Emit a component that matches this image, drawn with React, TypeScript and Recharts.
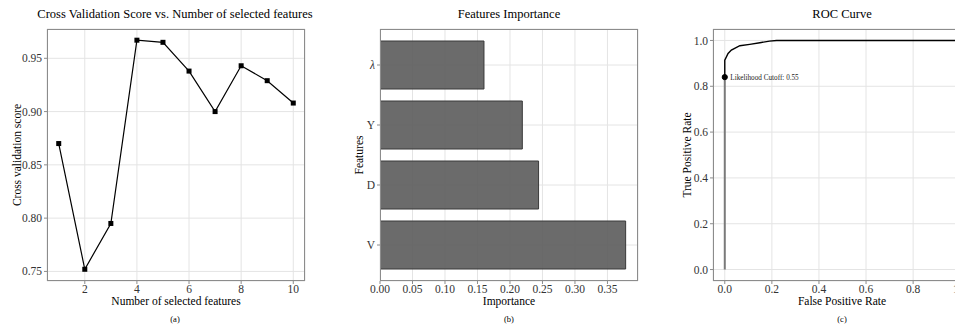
import React from 'react';
import {
  LineChart, Line, XAxis, YAxis, CartesianGrid, BarChart, Bar, ReferenceDot, Label,
} from 'recharts';

const featureCounts = [1, 2, 3, 4, 5, 6, 7, 8, 9, 10];
const cvScores = [0.870, 0.752, 0.795, 0.967, 0.965, 0.938, 0.900, 0.943, 0.929, 0.908];
const cvXTicks = [2, 4, 6, 8, 10];
const cvYTicks = [0.75, 0.80, 0.85, 0.90, 0.95];

const featureNames = ['λ', 'Y', 'D', 'V'];
const importances = [0.160, 0.219, 0.244, 0.378];
const impTicks = [0, 0.05, 0.10, 0.15, 0.20, 0.25, 0.30, 0.35];

const rocFpr = [0, 0, 0.014, 0.028, 0.064, 0.106, 0.149, 0.19, 0.22, 1.0];
const rocTpr = [0.84, 0.914, 0.943, 0.958, 0.977, 0.983, 0.99, 0.997, 1.0, 1.0];
const rocLowFpr = [0, 0];
const rocLowTpr = [0, 0.84];
const rocTicks = [0, 0.2, 0.4, 0.6, 0.8, 1.0];
const cutoffFpr = 0;
const cutoffTpr = 0.84;
const cutoffLabel = 'Likelihood Cutoff:  0.55';

const cvData = featureCounts.map((n, i) => ({ n, score: cvScores[i] }));
const impData = featureNames.map((name, i) => ({ name, value: importances[i] }));
const rocData = rocFpr.map((f, i) => ({ fpr: f, tpr: rocTpr[i] }));
const rocLowData = rocLowFpr.map((f, i) => ({ fpr: f, tpr: rocLowTpr[i] }));

const FONT = '"Liberation Serif", "Times New Roman", serif';
const GRID = '#e4e4e4';
const BORDER = '#8c8c8c';
const tickStyle = { fontSize: 11.5, fill: '#333', fontFamily: FONT };

const SquareDot = (props: any) => {
  const { cx, cy } = props;
  if (cx == null || cy == null) return null;
  return <rect x={cx - 2.5} y={cy - 2.5} width={5} height={5} fill="#000" />;
};

const FeatureTick = (props: any) => {
  const { x, y, payload } = props;
  const isLambda = payload.value === 'λ';
  return (
    <text x={x} y={y} dy="0.35em" textAnchor="end" fontSize={11.5} fill="#333" fontFamily={FONT}
      fontStyle={isLambda ? 'italic' : 'normal'}>
      {payload.value}
    </text>
  );
};

const abs = (left: number, top: number, extra: any = {}): React.CSSProperties => ({
  position: 'absolute', left, top, ...extra,
});

const TextAt = ({ x, y, size, children, rotate, color }: any) => (
  <div style={{
    position: 'absolute', left: x, top: y, transform: `translate(-50%, -50%)${rotate ? ' rotate(-90deg)' : ''}`,
    whiteSpace: 'nowrap', fontFamily: FONT, fontSize: size, color: color || '#000', lineHeight: 1,
  }}>{children}</div>
);

const Frame = ({ left, top, width, height }: any) => (
  <div style={{
    position: 'absolute', left, top, width, height, border: `1px solid ${BORDER}`,
    boxSizing: 'border-box', pointerEvents: 'none',
  }} />
);

export default function App() {
  return (
    <div style={{ position: 'relative', margin: '-8px 0 0 -8px', width: 963, height: 328, overflow: 'hidden', background: '#fff' }}>
      {/* Panel (a) */}
      <div style={abs(0, 0)}>
        <LineChart width={330} height={328} data={cvData} margin={{ top: 29, right: 25, bottom: 27, left: 7 }}>
          <CartesianGrid stroke={GRID} strokeWidth={1} />
          <XAxis dataKey="n" type="number" domain={[0.55, 10.45]} ticks={cvXTicks} axisLine={false}
            tickLine={{ stroke: BORDER }} tickSize={3} tickMargin={1} tick={tickStyle} height={20}
            interval={0} allowDataOverflow />
          <YAxis type="number" domain={[0.741, 0.9775]} ticks={cvYTicks} axisLine={false}
            tickLine={{ stroke: BORDER }} tickSize={3} tickMargin={2} tick={tickStyle} width={40}
            tickFormatter={(v: number) => v.toFixed(2)} interval={0} allowDataOverflow />
          <Line dataKey="score" type="linear" stroke="#000" strokeWidth={1.2} dot={<SquareDot />}
            activeDot={false} isAnimationActive={false} />
        </LineChart>
      </div>
      <Frame left={47} top={29} width={258} height={252} />
      <TextAt x={175} y={14} size={12.5}>Cross Validation Score vs. Number of selected features</TextAt>
      <TextAt x={176} y={302} size={11.5}>Number of selected features</TextAt>
      <TextAt x={18} y={155} size={11.5} rotate>Cross validation score</TextAt>
      <TextAt x={175} y={319} size={8.5}>(a)</TextAt>

      {/* Panel (b) */}
      <div style={abs(330, 0)}>
        <BarChart width={320} height={328} data={impData} layout="vertical"
          margin={{ top: 29, right: 12, bottom: 27, left: 20 }} barCategoryGap="10%">
          <CartesianGrid stroke={GRID} strokeWidth={1} />
          <XAxis type="number" domain={[0, 0.397]} ticks={impTicks} axisLine={false}
            tickLine={{ stroke: BORDER }} tickSize={3} tickMargin={1} tick={tickStyle} height={20}
            tickFormatter={(v: number) => v.toFixed(2)} interval={0} allowDataOverflow />
          <YAxis type="category" dataKey="name" axisLine={false} tickLine={{ stroke: BORDER }}
            tickSize={3} tickMargin={2} tick={<FeatureTick />} width={30} padding={{ top: 6, bottom: 6 }}
            interval={0} />
          <Bar dataKey="value" fill="#5e5e5e" fillOpacity={0.92} stroke="#3a3a3a" strokeWidth={1}
            isAnimationActive={false} />
        </BarChart>
      </div>
      <Frame left={380} top={29} width={258} height={252} />
      <TextAt x={509} y={14} size={12.5}>Features Importance</TextAt>
      <TextAt x={509} y={302} size={11.5}>Importance</TextAt>
      <TextAt x={360} y={155} size={11.5} rotate>Features</TextAt>
      <TextAt x={509} y={319} size={8.5}>(b)</TextAt>

      {/* Panel (c) */}
      <div style={abs(650, 0)}>
        <LineChart width={340} height={328} margin={{ top: 29, right: 18, bottom: 27, left: 23 }}>
          <CartesianGrid stroke={GRID} strokeWidth={1} />
          <XAxis dataKey="fpr" type="number" domain={[-0.05, 1.05]} ticks={rocTicks} axisLine={false}
            tickLine={{ stroke: BORDER }} tickSize={3} tickMargin={1} tick={tickStyle} height={20}
            tickFormatter={(v: number) => v.toFixed(1)} interval={0} allowDataOverflow />
          <YAxis type="number" domain={[-0.05, 1.05]} ticks={rocTicks} axisLine={false}
            tickLine={{ stroke: BORDER }} tickSize={3} tickMargin={2} tick={tickStyle} width={40}
            tickFormatter={(v: number) => v.toFixed(1)} interval={0} allowDataOverflow />
          <Line data={rocLowData} dataKey="tpr" type="linear" stroke="#7a7a7a" strokeWidth={2}
            dot={false} activeDot={false} isAnimationActive={false} />
          <Line data={rocData} dataKey="tpr" type="linear" stroke="#000" strokeWidth={1.4}
            dot={false} activeDot={false} isAnimationActive={false} />
          <ReferenceDot x={cutoffFpr} y={cutoffTpr} r={2.6} fill="#000" stroke="#000">
            <Label value={cutoffLabel} position="right" offset={3} fontSize={7.2} fill="#222"
              fontFamily={FONT} />
          </ReferenceDot>
        </LineChart>
      </div>
      <Frame left={713} top={29} width={259} height={252} />
      <TextAt x={842} y={14} size={12.5}>ROC Curve</TextAt>
      <TextAt x={842} y={302} size={11.5}>False Positive Rate</TextAt>
      <TextAt x={688} y={155} size={11.5} rotate>True Positive Rate</TextAt>
      <TextAt x={842} y={319} size={8.5}>(c)</TextAt>
    </div>
  );
}
